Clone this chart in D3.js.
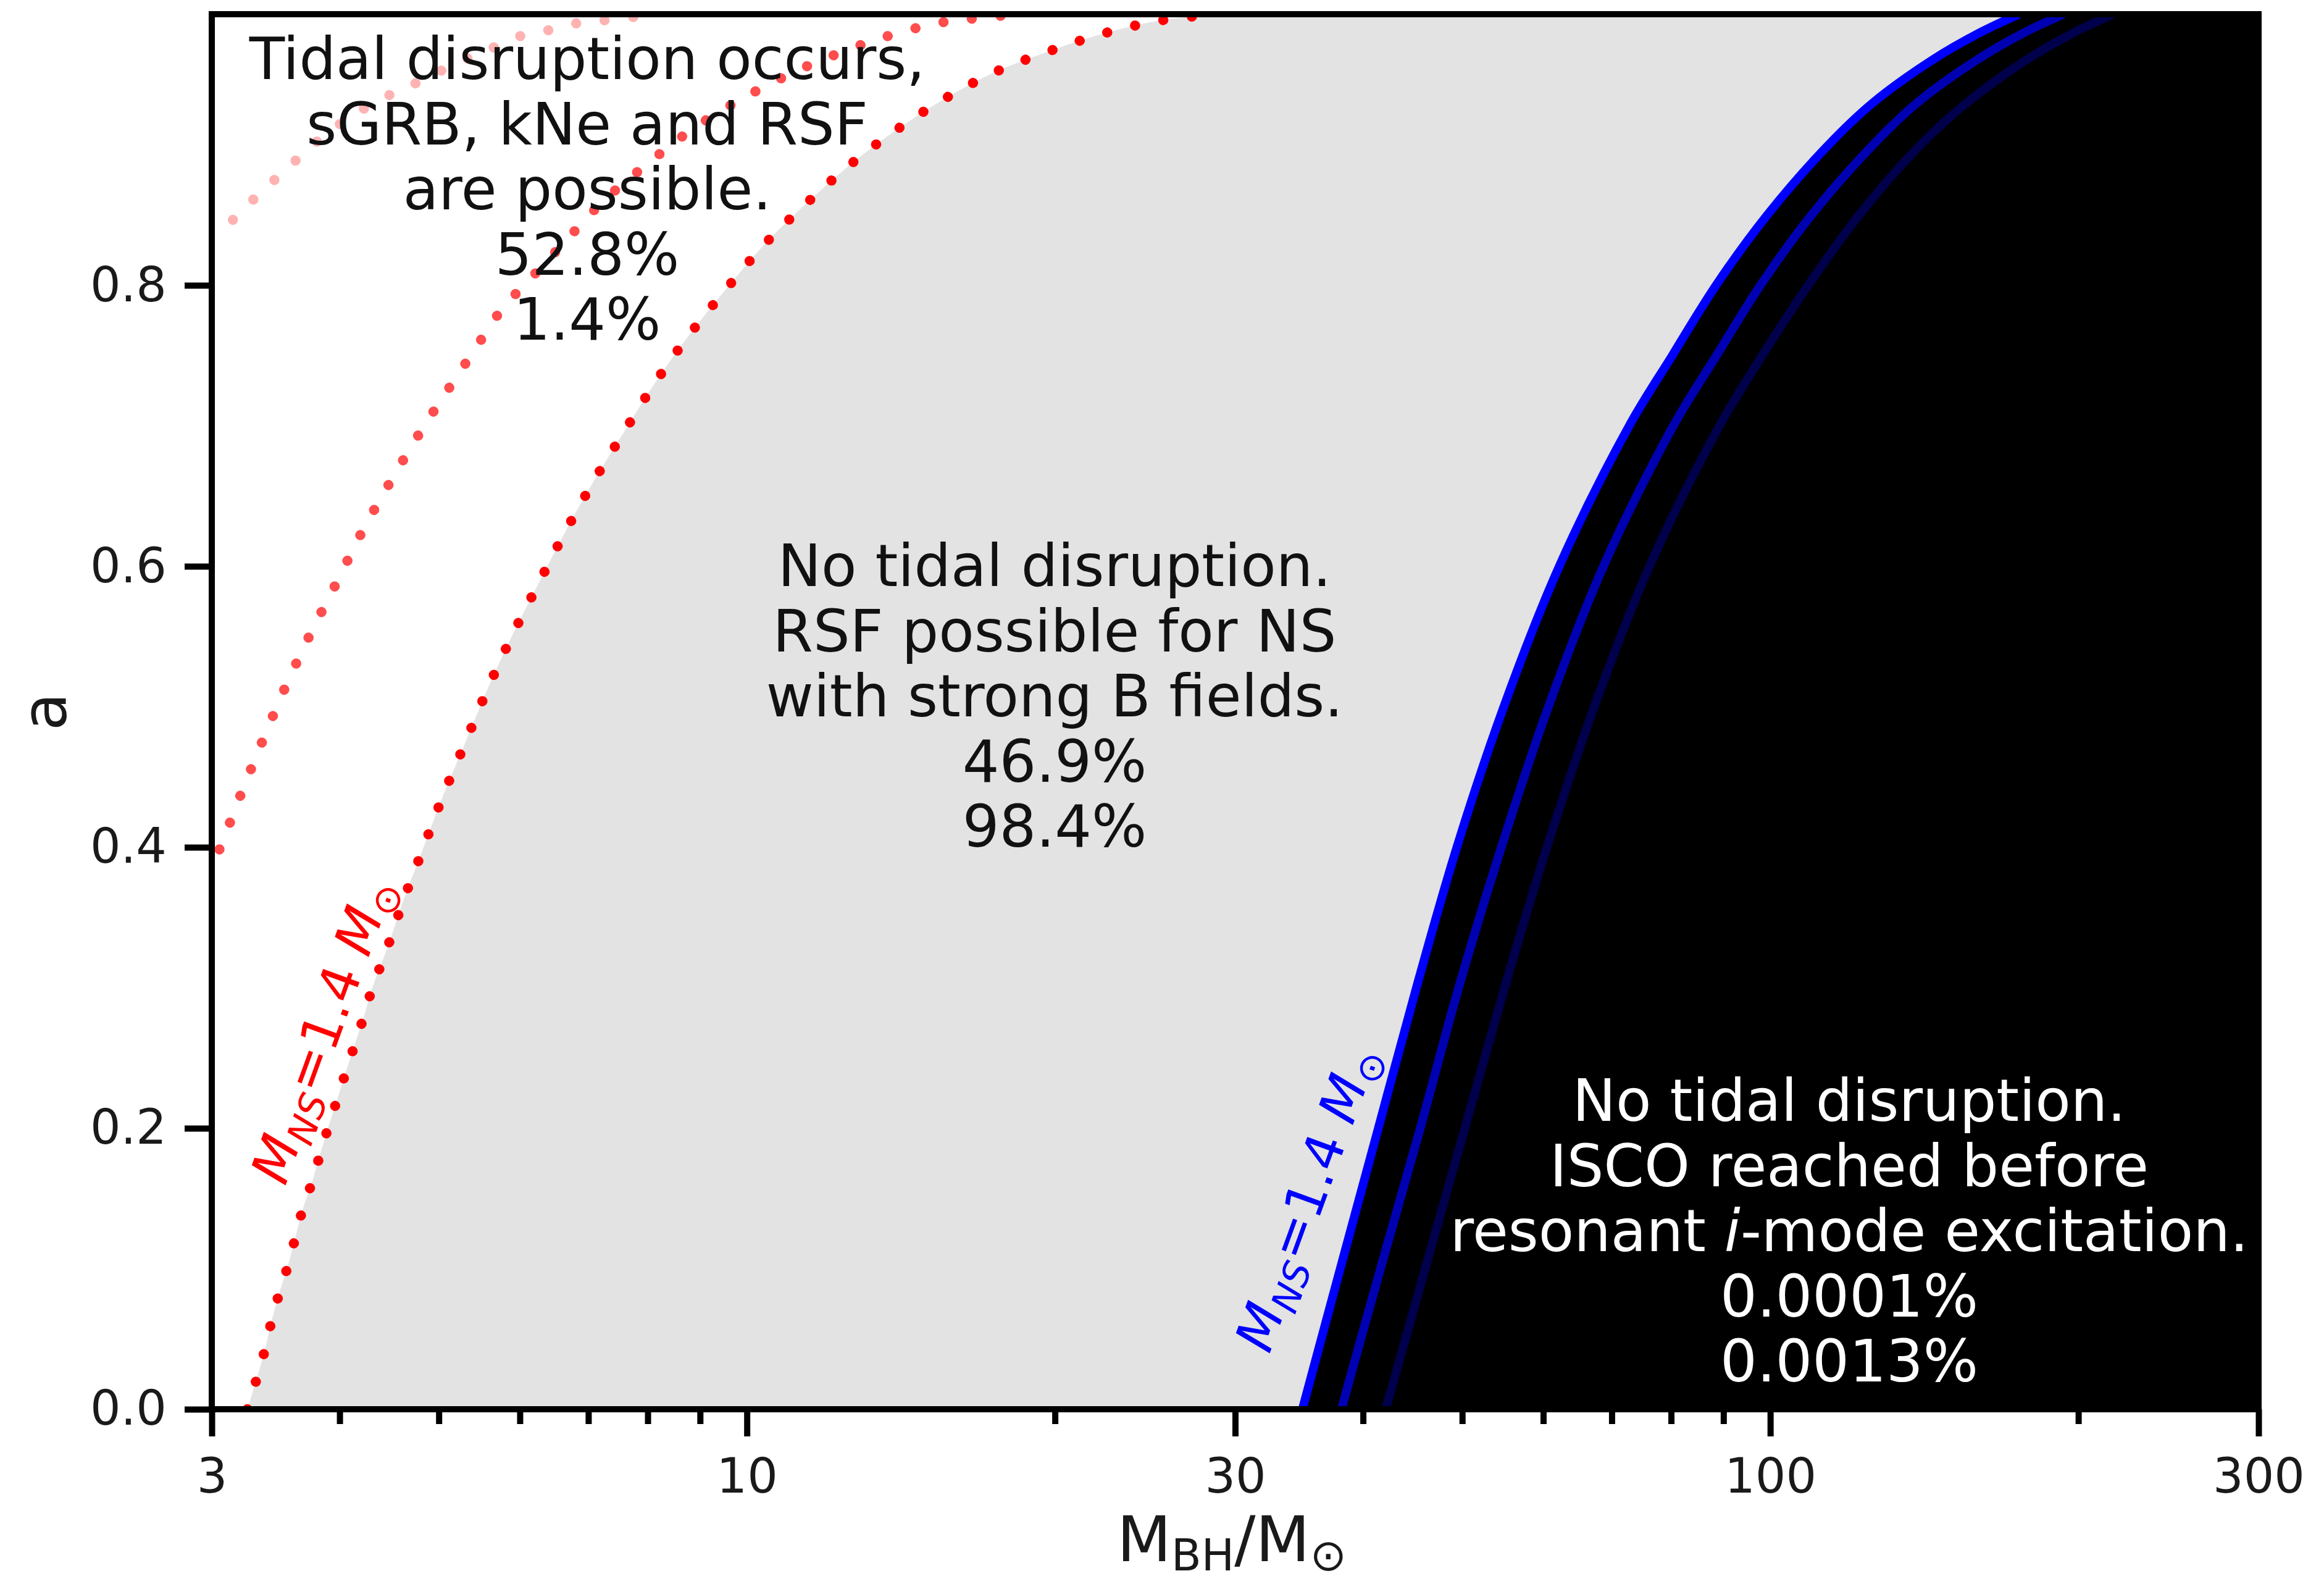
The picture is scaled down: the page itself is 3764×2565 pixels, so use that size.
<!DOCTYPE html>
<html>
<head>
<meta charset="utf-8">
<script src="https://cdn.jsdelivr.net/npm/d3@7"></script>
<style>
  html, body { margin: 0; padding: 0; background: #ffffff; }
  svg { display: block; }
  text { font-family: "DejaVu Sans", "Noto Sans", sans-serif; }
</style>
</head>
<body>
<svg id="chart" width="3764" height="2565"></svg>
<script>
// ---- axis ticks ----
const massTicks = [3, 10, 30, 100, 300];
const massMinorTicks = [4, 5, 6, 7, 8, 9, 20, 40, 50, 60, 70, 80, 90, 200];
const spinTicks = [0, 0.2, 0.4, 0.6, 0.8];

// ---- tidal-disruption boundaries, [M_BH / Msun, spin a] ----
const tdBoundary14 = [
  [3.25, 0], [3.32, 0.022], [3.38, 0.042], [3.43, 0.062], [3.49, 0.082], [3.56, 0.102],
  [3.62, 0.122], [3.68, 0.142], [3.76, 0.162], [3.83, 0.182], [3.90, 0.201], [3.98, 0.221],
  [4.06, 0.241], [4.14, 0.260], [4.23, 0.281], [4.31, 0.301], [4.41, 0.320], [4.51, 0.340],
  [4.60, 0.359], [4.82, 0.398], [5.05, 0.437], [5.31, 0.475], [5.59, 0.514], [5.90, 0.551],
  [6.26, 0.588], [6.65, 0.625], [7.09, 0.661], [7.59, 0.696], [8.14, 0.731], [8.79, 0.765],
  [9.56, 0.798], [10.40, 0.829], [11.42, 0.858], [12.62, 0.886], [14.02, 0.911],
  [15.62, 0.933], [17.5, 0.952], [19.8, 0.967], [22.5, 0.980], [25.6, 0.989], [29.0, 0.993]
];
const tdBoundaryMid = [
  [2.97, 0.380], [3.05, 0.398], [3.20, 0.437], [3.36, 0.475], [3.54, 0.514], [3.74, 0.551],
  [3.97, 0.588], [4.21, 0.625], [4.49, 0.661], [4.80, 0.696], [4.99, 0.715], [5.35, 0.748],
  [5.79, 0.785], [6.04, 0.799], [6.60, 0.829], [7.24, 0.860], [7.98, 0.886], [8.84, 0.911],
  [9.90, 0.933], [11.06, 0.951], [11.8, 0.960], [13.4, 0.975], [15.2, 0.986], [16.2, 0.989],
  [18.4, 0.993]
];
const tdBoundaryLow = [
  [2.97, 0.838], [3.10, 0.843], [3.26, 0.858], [3.43, 0.873], [3.60, 0.887], [3.78, 0.901],
  [4.12, 0.921], [4.49, 0.936], [4.75, 0.944], [5.2, 0.958], [5.6, 0.968], [6.04, 0.978],
  [6.44, 0.982], [6.87, 0.987], [7.32, 0.989], [8.2, 0.993]
];

// ---- ISCO-before-resonance boundaries, [M_BH / Msun, spin a] ----
const iscoBoundary14 = [
  [34.9, 0], [38.0, 0.1], [41.4, 0.2], [45.1, 0.3], [49.4, 0.4], [54.9, 0.5], [62.2, 0.6],
  [72.8, 0.7], [80.2, 0.75], [88.5, 0.8], [99.3, 0.85], [114.0, 0.9], [126.0, 0.93],
  [143.7, 0.96], [160.4, 0.98], [175.0, 0.993]
];
const iscoBoundaryMid = [
  [38.1, 0], [41.6, 0.1], [45.5, 0.2], [49.6, 0.3], [54.6, 0.4], [60.7, 0.5], [68.7, 0.6],
  [80.4, 0.7], [88.6, 0.75], [97.8, 0.8], [109.7, 0.85], [126.0, 0.9], [139.2, 0.93],
  [158.8, 0.96], [177.2, 0.98], [193.4, 0.993]
];
const iscoBoundaryHigh = [
  [42.1, 0], [46.0, 0.1], [50.3, 0.2], [55.0, 0.3], [60.5, 0.4], [67.3, 0.5], [76.2, 0.6],
  [89.2, 0.7], [98.2, 0.75], [108.9, 0.8], [122.1, 0.85], [140.2, 0.9], [155.6, 0.93],
  [177.5, 0.96], [198.1, 0.98], [216.1, 0.993]
];

const curveAlpha = [1, 0.7, 0.3];

// ---- region annotations ----
const regionNotes = [
  { cx: 951, y0: 128, color: "#111111",
    lines: [[["Tidal disruption occurs,"]], [["sGRB, kNe and RSF"]], [["are possible."]],
            [["52.8%"]], [["1.4%"]]] },
  { cx: 1708, y0: 949, color: "#111111",
    lines: [[["No tidal disruption."]], [["RSF possible for NS"]], [["with strong B fields."]],
            [["46.9%"]], [["98.4%"]]] },
  { cx: 2995, y0: 1815, color: "#ffffff",
    lines: [[["No tidal disruption."]], [["ISCO reached before"]],
            [["resonant "], ["i", "italic"], ["-mode excitation."]],
            [["0.0001%"]], [["0.0013%"]]] }
];

// ---- layout ----
const W = 3764, H = 2565;
const plot = { left: 343, right: 3658, top: 23, bottom: 2282 };
const yMax = 0.993;

const x = d3.scaleLog().domain([3, 300]).range([plot.left, plot.right]);
const y = d3.scaleLinear().domain([0, yMax]).range([plot.bottom, plot.top]);

const svg = d3.select("#chart");
svg.append("rect").attr("width", W).attr("height", H).attr("fill", "#ffffff");

svg.append("defs").append("clipPath").attr("id", "plotClip")
  .append("rect")
  .attr("x", plot.left).attr("y", plot.top)
  .attr("width", plot.right - plot.left).attr("height", plot.bottom - plot.top);

const line = d3.line()
  .x(d => x(d[0]))
  .y(d => y(d[1]))
  .curve(d3.curveCatmullRom.alpha(0.5));

const area = svg.append("g").attr("clip-path", "url(#plotClip)");

// grey band: between the tidal-disruption and ISCO boundaries
const greyPath = line(tdBoundary14) +
  line(iscoBoundary14.slice().reverse()).replace(/^M/, "L") + "Z";
area.append("path").attr("d", greyPath).attr("fill", "#e3e3e3");

// black region: beyond the ISCO boundary
const blackPath = line(iscoBoundary14) +
  `L${x(300) + 20},${y(yMax) - 20}L${x(300) + 20},${y(0) + 20}L${x(iscoBoundary14[0][0])},${y(0) + 20}Z`;
area.append("path").attr("d", blackPath).attr("fill", "#000000");

// dotted red tidal-disruption curves
[tdBoundaryLow, tdBoundaryMid, tdBoundary14].forEach((c, i, arr) => {
  area.append("path")
    .attr("d", line(c))
    .attr("fill", "none")
    .attr("stroke", "#ff0000")
    .attr("stroke-opacity", curveAlpha[arr.length - 1 - i])
    .attr("stroke-width", 16.5)
    .attr("stroke-linecap", "round")
    .attr("stroke-dasharray", "0.01 46.5");
});

// solid blue ISCO curves
[iscoBoundaryHigh, iscoBoundaryMid, iscoBoundary14].forEach((c, i, arr) => {
  area.append("path")
    .attr("d", line(c))
    .attr("fill", "none")
    .attr("stroke", "#0000ff")
    .attr("stroke-opacity", curveAlpha[arr.length - 1 - i])
    .attr("stroke-width", 14);
});

// ---- axes ----
const tickStroke = 10;
function styleAxis(g, fontSize) {
  g.select(".domain").remove();
  g.selectAll(".tick line").attr("stroke", "#000").attr("stroke-width", tickStroke);
  g.selectAll(".tick text")
    .attr("fill", "#1a1a1a")
    .attr("font-size", fontSize)
    .attr("font-family", "DejaVu Sans, sans-serif");
  g.attr("font-size", null).attr("font-family", null);
}

const xAxis = svg.append("g")
  .attr("transform", `translate(0,${plot.bottom})`)
  .call(d3.axisBottom(x).tickValues(massTicks).tickFormat(d3.format("d"))
    .tickSize(44).tickPadding(36));
styleAxis(xAxis, 78);

const xMinor = svg.append("g")
  .attr("transform", `translate(0,${plot.bottom})`)
  .call(d3.axisBottom(x).tickValues(massMinorTicks).tickFormat("").tickSize(24));
styleAxis(xMinor, 78);

const yAxis = svg.append("g")
  .attr("transform", `translate(${plot.left},0)`)
  .call(d3.axisLeft(y).tickValues(spinTicks).tickFormat(d3.format(".1f"))
    .tickSize(44).tickPadding(29));
styleAxis(yAxis, 78);

// frame
svg.append("rect")
  .attr("x", plot.left).attr("y", plot.top)
  .attr("width", plot.right - plot.left).attr("height", plot.bottom - plot.top)
  .attr("fill", "none").attr("stroke", "#000").attr("stroke-width", 10);

// ---- region texts ----
const noteSize = 94, noteLead = 105.5;
regionNotes.forEach(n => {
  const t = svg.append("text")
    .attr("text-anchor", "middle")
    .attr("font-size", noteSize)
    .attr("fill", n.color);
  n.lines.forEach((segs, li) => {
    segs.forEach((s, si) => {
      const sp = t.append("tspan").text(s[0]);
      if (si === 0) sp.attr("x", n.cx).attr("y", n.y0 + li * noteLead);
      if (s[1] === "italic") sp.attr("font-style", "italic");
    });
  });
});

// ---- curve labels: M_NS = 1.4 Msun ----
function massLabel(cx, cy, angle, color, size) {
  const t = svg.append("text")
    .attr("transform", `translate(${cx},${cy}) rotate(${angle})`)
    .attr("text-anchor", "middle")
    .attr("y", 0.35 * size)
    .attr("font-size", size)
    .attr("fill", color);
  const sub = 0.2 * size;
  t.append("tspan").attr("font-style", "italic").text("M");
  t.append("tspan").attr("font-style", "italic").attr("font-size", 0.7 * size)
    .attr("dy", sub).text("NS");
  t.append("tspan").attr("dy", -sub).text("=1.4 ");
  t.append("tspan").attr("font-style", "italic").text("M");
  t.append("tspan").attr("font-size", 0.7 * size).attr("dy", sub).text("\u2299");
}
massLabel(522, 1668, -70, "#ff0000", 86);
massLabel(2116, 1940, -70, "#0000ff", 86);

// ---- axis titles ----
const xt = svg.append("text")
  .attr("x", 1995).attr("y", 2528)
  .attr("text-anchor", "middle")
  .attr("font-size", 102)
  .attr("fill", "#1a1a1a");
xt.append("tspan").text("M");
xt.append("tspan").attr("font-size", 71).attr("dy", 15).text("BH");
xt.append("tspan").attr("dy", -15).text("/M");
xt.append("tspan").attr("font-size", 71).attr("dy", 15).text("\u2299");

svg.append("text")
  .attr("transform", `translate(107,${(plot.top + plot.bottom) / 2}) rotate(-90)`)
  .attr("text-anchor", "middle")
  .attr("font-size", 100)
  .attr("fill", "#1a1a1a")
  .text("a");
</script>
</body>
</html>
